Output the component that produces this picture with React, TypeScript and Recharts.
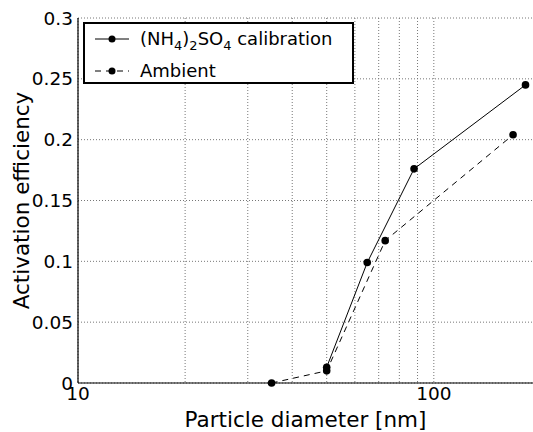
import React from 'react'
import {
  LineChart,
  Line,
  XAxis,
  YAxis,
  CartesianGrid,
  Legend
} from 'recharts'

// values
const calibDiameter = [50, 65, 88, 181]
const calibEfficiency = [0.013, 0.099, 0.176, 0.245]
const ambientDiameter = [35, 50, 73, 167]
const ambientEfficiency = [0, 0.01, 0.117, 0.204]

const xTicks = [10, 20, 30, 40, 50, 60, 70, 80, 90, 100]
const xLabelled = [10, 100]
const yTicks = [0, 0.05, 0.1, 0.15, 0.2, 0.25, 0.3]

const calibData = calibDiameter.map((d, i) => ({ d, eff: calibEfficiency[i] }))
const ambientData = ambientDiameter.map((d, i) => ({ d, eff: ambientEfficiency[i] }))

const FONT = '"DejaVu Sans", "Liberation Sans", sans-serif'

function LegendRow({ dashed, children }: { dashed?: boolean; children: React.ReactNode }) {
  return (
    <div style={{ position: 'relative', height: 30, whiteSpace: 'nowrap' }}>
      <svg width={34} height={10} style={{ position: 'absolute', left: 10, top: 10 }}>
        <line
          x1={0}
          y1={5}
          x2={34}
          y2={5}
          stroke="#000"
          strokeWidth={1}
          strokeDasharray={dashed ? '6 5' : undefined}
        />
        <circle cx={17} cy={5} r={3.5} fill="#000" />
      </svg>
      <span style={{ position: 'absolute', left: 55, top: 4, lineHeight: '22px' }}>{children}</span>
    </div>
  )
}

function LegendBox() {
  const sub = { fontSize: 13, verticalAlign: '-0.35em', lineHeight: 0 } as const
  return (
    <div
      style={{
        boxSizing: 'border-box',
        width: 271,
        height: 62,
        border: '2px solid #000',
        background: '#fff',
        fontFamily: FONT,
        fontSize: 18,
        color: '#000'
      }}
    >
      <LegendRow>
        (NH<span style={sub}>4</span>)<span style={sub}>2</span>SO<span style={sub}>4</span> calibration
      </LegendRow>
      <div style={{ height: 2 }} />
      <LegendRow dashed>Ambient</LegendRow>
    </div>
  )
}

export default function App() {
  const tickStyle = { fontSize: 18.5, fill: '#000', fontFamily: FONT }
  return (
    <div style={{ position: 'absolute', left: 0, top: 0, width: 533, height: 432, background: '#fff' }}>
      <LineChart width={533} height={432} margin={{ top: 18, right: 0, left: 8, bottom: 0 }}>
        <CartesianGrid stroke="#777" strokeDasharray="1 2" verticalValues={xTicks} horizontalValues={yTicks} />
        <XAxis
          dataKey="d"
          type="number"
          scale="log"
          domain={[10, 190]}
          allowDataOverflow
          ticks={xTicks}
          interval={0}
          tickFormatter={(v: number) => (xLabelled.includes(v) ? String(v) : '')}
          tick={tickStyle}
          tickLine={false}
          tickSize={0}
          tickMargin={4}
          height={49}
          axisLine={{ stroke: '#000', strokeWidth: 1.2 }}
          label={({ viewBox }: any) => (
            <text
              x={viewBox.x + viewBox.width / 2}
              y={viewBox.y + viewBox.height - 5}
              textAnchor="middle"
              fontFamily={FONT}
              fontSize={21.5}
              fill="#000"
            >
              Particle diameter [nm]
            </text>
          )}
        />
        <XAxis
          xAxisId="top"
          dataKey="d"
          orientation="top"
          type="number"
          scale="log"
          domain={[10, 190]}
          allowDataOverflow
          ticks={xTicks}
          interval={0}
          tick={false}
          mirror
          tickSize={4}
          height={0}
          axisLine={{ stroke: '#000', strokeWidth: 1.2 }}
          tickLine={{ stroke: '#000' }}
        />
        <YAxis
          type="number"
          domain={[0, 0.3]}
          ticks={yTicks}
          interval={0}
          width={70}
          tick={tickStyle}
          tickLine={false}
          tickSize={0}
          tickMargin={5}
          axisLine={{ stroke: '#000', strokeWidth: 1.2 }}
          label={({ viewBox }: any) => {
            const cx = viewBox.x + 13
            const cy = viewBox.y + viewBox.height / 2
            return (
              <text
                x={cx}
                y={cy}
                transform={`rotate(-90 ${cx} ${cy})`}
                textAnchor="middle"
                dominantBaseline="central"
                fontFamily={FONT}
                fontSize={21.5}
                fill="#000"
              >
                Activation efficiency
              </text>
            )
          }}
        />
        <Legend
          layout="horizontal"
          verticalAlign="middle"
          content={() => <LegendBox />}
          wrapperStyle={{ position: 'absolute', left: 83, top: 22, width: 'auto' }}
        />
        <Line
          data={calibData}
          dataKey="eff"
          name="calibration"
          stroke="#000"
          strokeWidth={1}
          dot={{ r: 3.8, fill: '#000', stroke: '#000', strokeWidth: 0 }}
          activeDot={false}
          isAnimationActive={false}
        />
        <Line
          data={ambientData}
          dataKey="eff"
          name="ambient"
          stroke="#000"
          strokeWidth={1}
          strokeDasharray="6 5"
          dot={{ r: 3.8, fill: '#000', stroke: '#000', strokeWidth: 0 }}
          activeDot={false}
          isAnimationActive={false}
        />
      </LineChart>
    </div>
  )
}
